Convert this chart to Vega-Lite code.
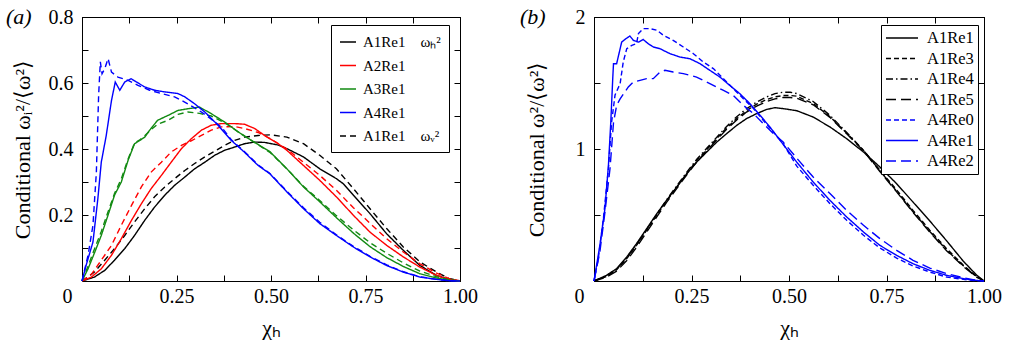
{
"$schema": "https://vega.github.io/schema/vega-lite/v6.json",
"padding": {"left": 5, "top": 5, "right": 5, "bottom": 2},
"bounds": "flush",
"spacing": 134,
"datasets": {
"a": [
{"s":"A1Re1","x":0,"y":0},{"s":"A1Re1","x":0.033,"y":0.012},{"s":"A1Re1","x":0.06,"y":0.032},{"s":"A1Re1","x":0.086,"y":0.063},{"s":"A1Re1","x":0.113,"y":0.098},{"s":"A1Re1","x":0.139,"y":0.138},{"s":"A1Re1","x":0.166,"y":0.184},{"s":"A1Re1","x":0.192,"y":0.224},{"s":"A1Re1","x":0.219,"y":0.26},{"s":"A1Re1","x":0.245,"y":0.29},{"s":"A1Re1","x":0.272,"y":0.315},{"s":"A1Re1","x":0.298,"y":0.34},{"s":"A1Re1","x":0.325,"y":0.36},{"s":"A1Re1","x":0.351,"y":0.381},{"s":"A1Re1","x":0.377,"y":0.396},{"s":"A1Re1","x":0.404,"y":0.406},{"s":"A1Re1","x":0.43,"y":0.416},{"s":"A1Re1","x":0.457,"y":0.421},{"s":"A1Re1","x":0.483,"y":0.42},{"s":"A1Re1","x":0.519,"y":0.412},{"s":"A1Re1","x":0.542,"y":0.401},{"s":"A1Re1","x":0.586,"y":0.376},{"s":"A1Re1","x":0.629,"y":0.34},{"s":"A1Re1","x":0.673,"y":0.31},{"s":"A1Re1","x":0.691,"y":0.295},{"s":"A1Re1","x":0.718,"y":0.26},{"s":"A1Re1","x":0.762,"y":0.204},{"s":"A1Re1","x":0.806,"y":0.143},{"s":"A1Re1","x":0.85,"y":0.093},{"s":"A1Re1","x":0.894,"y":0.047},{"s":"A1Re1","x":0.938,"y":0.017},{"s":"A1Re1","x":0.97,"y":0.005},{"s":"A1Re1","x":1,"y":0},
{"s":"A1Re1 v","x":0,"y":0},{"s":"A1Re1 v","x":0.033,"y":0.027},{"s":"A1Re1 v","x":0.06,"y":0.063},{"s":"A1Re1 v","x":0.086,"y":0.098},{"s":"A1Re1 v","x":0.113,"y":0.138},{"s":"A1Re1 v","x":0.139,"y":0.179},{"s":"A1Re1 v","x":0.166,"y":0.219},{"s":"A1Re1 v","x":0.192,"y":0.255},{"s":"A1Re1 v","x":0.219,"y":0.285},{"s":"A1Re1 v","x":0.245,"y":0.31},{"s":"A1Re1 v","x":0.272,"y":0.335},{"s":"A1Re1 v","x":0.298,"y":0.356},{"s":"A1Re1 v","x":0.325,"y":0.376},{"s":"A1Re1 v","x":0.351,"y":0.393},{"s":"A1Re1 v","x":0.377,"y":0.411},{"s":"A1Re1 v","x":0.404,"y":0.426},{"s":"A1Re1 v","x":0.43,"y":0.436},{"s":"A1Re1 v","x":0.466,"y":0.441},{"s":"A1Re1 v","x":0.5,"y":0.443},{"s":"A1Re1 v","x":0.542,"y":0.436},{"s":"A1Re1 v","x":0.586,"y":0.416},{"s":"A1Re1 v","x":0.629,"y":0.381},{"s":"A1Re1 v","x":0.673,"y":0.34},{"s":"A1Re1 v","x":0.718,"y":0.28},{"s":"A1Re1 v","x":0.762,"y":0.219},{"s":"A1Re1 v","x":0.806,"y":0.159},{"s":"A1Re1 v","x":0.85,"y":0.103},{"s":"A1Re1 v","x":0.894,"y":0.058},{"s":"A1Re1 v","x":0.938,"y":0.027},{"s":"A1Re1 v","x":0.97,"y":0.008},{"s":"A1Re1 v","x":1,"y":0},
{"s":"A2Re1","x":0,"y":0},{"s":"A2Re1","x":0.025,"y":0.012},{"s":"A2Re1","x":0.051,"y":0.037},{"s":"A2Re1","x":0.078,"y":0.078},{"s":"A2Re1","x":0.104,"y":0.128},{"s":"A2Re1","x":0.131,"y":0.184},{"s":"A2Re1","x":0.157,"y":0.234},{"s":"A2Re1","x":0.183,"y":0.28},{"s":"A2Re1","x":0.21,"y":0.32},{"s":"A2Re1","x":0.236,"y":0.36},{"s":"A2Re1","x":0.263,"y":0.401},{"s":"A2Re1","x":0.289,"y":0.431},{"s":"A2Re1","x":0.316,"y":0.457},{"s":"A2Re1","x":0.342,"y":0.472},{"s":"A2Re1","x":0.369,"y":0.477},{"s":"A2Re1","x":0.404,"y":0.477},{"s":"A2Re1","x":0.43,"y":0.475},{"s":"A2Re1","x":0.457,"y":0.462},{"s":"A2Re1","x":0.483,"y":0.441},{"s":"A2Re1","x":0.519,"y":0.416},{"s":"A2Re1","x":0.542,"y":0.396},{"s":"A2Re1","x":0.586,"y":0.35},{"s":"A2Re1","x":0.629,"y":0.305},{"s":"A2Re1","x":0.673,"y":0.255},{"s":"A2Re1","x":0.718,"y":0.199},{"s":"A2Re1","x":0.762,"y":0.148},{"s":"A2Re1","x":0.806,"y":0.108},{"s":"A2Re1","x":0.85,"y":0.073},{"s":"A2Re1","x":0.894,"y":0.042},{"s":"A2Re1","x":0.938,"y":0.017},{"s":"A2Re1","x":0.97,"y":0.005},{"s":"A2Re1","x":1,"y":0},
{"s":"A2Re1 v","x":0,"y":0},{"s":"A2Re1 v","x":0.025,"y":0.02},{"s":"A2Re1 v","x":0.051,"y":0.063},{"s":"A2Re1 v","x":0.078,"y":0.108},{"s":"A2Re1 v","x":0.104,"y":0.169},{"s":"A2Re1 v","x":0.131,"y":0.229},{"s":"A2Re1 v","x":0.157,"y":0.285},{"s":"A2Re1 v","x":0.183,"y":0.33},{"s":"A2Re1 v","x":0.21,"y":0.36},{"s":"A2Re1 v","x":0.236,"y":0.391},{"s":"A2Re1 v","x":0.263,"y":0.411},{"s":"A2Re1 v","x":0.289,"y":0.425},{"s":"A2Re1 v","x":0.316,"y":0.441},{"s":"A2Re1 v","x":0.342,"y":0.457},{"s":"A2Re1 v","x":0.369,"y":0.467},{"s":"A2Re1 v","x":0.404,"y":0.468},{"s":"A2Re1 v","x":0.43,"y":0.462},{"s":"A2Re1 v","x":0.466,"y":0.45},{"s":"A2Re1 v","x":0.5,"y":0.43},{"s":"A2Re1 v","x":0.542,"y":0.4},{"s":"A2Re1 v","x":0.586,"y":0.36},{"s":"A2Re1 v","x":0.629,"y":0.32},{"s":"A2Re1 v","x":0.673,"y":0.275},{"s":"A2Re1 v","x":0.718,"y":0.222},{"s":"A2Re1 v","x":0.762,"y":0.175},{"s":"A2Re1 v","x":0.806,"y":0.128},{"s":"A2Re1 v","x":0.85,"y":0.088},{"s":"A2Re1 v","x":0.894,"y":0.052},{"s":"A2Re1 v","x":0.938,"y":0.024},{"s":"A2Re1 v","x":0.97,"y":0.008},{"s":"A2Re1 v","x":1,"y":0},
{"s":"A3Re1","x":0,"y":0},{"s":"A3Re1","x":0.016,"y":0.037},{"s":"A3Re1","x":0.034,"y":0.088},{"s":"A3Re1","x":0.051,"y":0.138},{"s":"A3Re1","x":0.069,"y":0.2},{"s":"A3Re1","x":0.086,"y":0.26},{"s":"A3Re1","x":0.104,"y":0.3},{"s":"A3Re1","x":0.122,"y":0.366},{"s":"A3Re1","x":0.139,"y":0.416},{"s":"A3Re1","x":0.153,"y":0.426},{"s":"A3Re1","x":0.166,"y":0.436},{"s":"A3Re1","x":0.179,"y":0.457},{"s":"A3Re1","x":0.2,"y":0.487},{"s":"A3Re1","x":0.228,"y":0.502},{"s":"A3Re1","x":0.254,"y":0.517},{"s":"A3Re1","x":0.28,"y":0.522},{"s":"A3Re1","x":0.311,"y":0.527},{"s":"A3Re1","x":0.342,"y":0.507},{"s":"A3Re1","x":0.377,"y":0.482},{"s":"A3Re1","x":0.413,"y":0.452},{"s":"A3Re1","x":0.448,"y":0.426},{"s":"A3Re1","x":0.497,"y":0.392},{"s":"A3Re1","x":0.542,"y":0.34},{"s":"A3Re1","x":0.586,"y":0.285},{"s":"A3Re1","x":0.629,"y":0.24},{"s":"A3Re1","x":0.673,"y":0.192},{"s":"A3Re1","x":0.718,"y":0.145},{"s":"A3Re1","x":0.762,"y":0.104},{"s":"A3Re1","x":0.806,"y":0.071},{"s":"A3Re1","x":0.85,"y":0.044},{"s":"A3Re1","x":0.894,"y":0.022},{"s":"A3Re1","x":0.938,"y":0.009},{"s":"A3Re1","x":0.97,"y":0.003},{"s":"A3Re1","x":1,"y":0},
{"s":"A3Re1 v","x":0,"y":0},{"s":"A3Re1 v","x":0.016,"y":0.045},{"s":"A3Re1 v","x":0.034,"y":0.1},{"s":"A3Re1 v","x":0.051,"y":0.15},{"s":"A3Re1 v","x":0.069,"y":0.21},{"s":"A3Re1 v","x":0.086,"y":0.265},{"s":"A3Re1 v","x":0.104,"y":0.31},{"s":"A3Re1 v","x":0.122,"y":0.37},{"s":"A3Re1 v","x":0.139,"y":0.418},{"s":"A3Re1 v","x":0.153,"y":0.428},{"s":"A3Re1 v","x":0.166,"y":0.44},{"s":"A3Re1 v","x":0.179,"y":0.455},{"s":"A3Re1 v","x":0.2,"y":0.475},{"s":"A3Re1 v","x":0.228,"y":0.487},{"s":"A3Re1 v","x":0.254,"y":0.505},{"s":"A3Re1 v","x":0.28,"y":0.512},{"s":"A3Re1 v","x":0.311,"y":0.508},{"s":"A3Re1 v","x":0.342,"y":0.5},{"s":"A3Re1 v","x":0.377,"y":0.48},{"s":"A3Re1 v","x":0.413,"y":0.452},{"s":"A3Re1 v","x":0.448,"y":0.426},{"s":"A3Re1 v","x":0.497,"y":0.39},{"s":"A3Re1 v","x":0.542,"y":0.34},{"s":"A3Re1 v","x":0.586,"y":0.287},{"s":"A3Re1 v","x":0.629,"y":0.244},{"s":"A3Re1 v","x":0.673,"y":0.198},{"s":"A3Re1 v","x":0.718,"y":0.155},{"s":"A3Re1 v","x":0.762,"y":0.116},{"s":"A3Re1 v","x":0.806,"y":0.084},{"s":"A3Re1 v","x":0.85,"y":0.055},{"s":"A3Re1 v","x":0.894,"y":0.03},{"s":"A3Re1 v","x":0.938,"y":0.013},{"s":"A3Re1 v","x":0.97,"y":0.004},{"s":"A3Re1 v","x":1,"y":0},
{"s":"A4Re1","x":0,"y":0},{"s":"A4Re1","x":0.011,"y":0.048},{"s":"A4Re1","x":0.029,"y":0.118},{"s":"A4Re1","x":0.042,"y":0.25},{"s":"A4Re1","x":0.051,"y":0.36},{"s":"A4Re1","x":0.064,"y":0.44},{"s":"A4Re1","x":0.078,"y":0.547},{"s":"A4Re1","x":0.088,"y":0.603},{"s":"A4Re1","x":0.1,"y":0.578},{"s":"A4Re1","x":0.113,"y":0.603},{"s":"A4Re1","x":0.13,"y":0.613},{"s":"A4Re1","x":0.144,"y":0.603},{"s":"A4Re1","x":0.166,"y":0.588},{"s":"A4Re1","x":0.192,"y":0.578},{"s":"A4Re1","x":0.219,"y":0.573},{"s":"A4Re1","x":0.254,"y":0.568},{"s":"A4Re1","x":0.272,"y":0.558},{"s":"A4Re1","x":0.298,"y":0.537},{"s":"A4Re1","x":0.325,"y":0.512},{"s":"A4Re1","x":0.36,"y":0.472},{"s":"A4Re1","x":0.395,"y":0.426},{"s":"A4Re1","x":0.43,"y":0.39},{"s":"A4Re1","x":0.466,"y":0.35},{"s":"A4Re1","x":0.497,"y":0.325},{"s":"A4Re1","x":0.519,"y":0.298},{"s":"A4Re1","x":0.542,"y":0.27},{"s":"A4Re1","x":0.586,"y":0.219},{"s":"A4Re1","x":0.629,"y":0.174},{"s":"A4Re1","x":0.673,"y":0.138},{"s":"A4Re1","x":0.718,"y":0.103},{"s":"A4Re1","x":0.762,"y":0.073},{"s":"A4Re1","x":0.806,"y":0.047},{"s":"A4Re1","x":0.85,"y":0.027},{"s":"A4Re1","x":0.894,"y":0.012},{"s":"A4Re1","x":0.938,"y":0.005},{"s":"A4Re1","x":0.97,"y":0.001},{"s":"A4Re1","x":1,"y":0},
{"s":"A4Re1 v","x":0,"y":0},{"s":"A4Re1 v","x":0.016,"y":0.078},{"s":"A4Re1 v","x":0.029,"y":0.169},{"s":"A4Re1 v","x":0.038,"y":0.33},{"s":"A4Re1 v","x":0.044,"y":0.563},{"s":"A4Re1 v","x":0.0485,"y":0.664},{"s":"A4Re1 v","x":0.053,"y":0.628},{"s":"A4Re1 v","x":0.06,"y":0.643},{"s":"A4Re1 v","x":0.069,"y":0.674},{"s":"A4Re1 v","x":0.078,"y":0.633},{"s":"A4Re1 v","x":0.095,"y":0.618},{"s":"A4Re1 v","x":0.122,"y":0.608},{"s":"A4Re1 v","x":0.148,"y":0.593},{"s":"A4Re1 v","x":0.179,"y":0.578},{"s":"A4Re1 v","x":0.21,"y":0.568},{"s":"A4Re1 v","x":0.245,"y":0.558},{"s":"A4Re1 v","x":0.28,"y":0.537},{"s":"A4Re1 v","x":0.316,"y":0.512},{"s":"A4Re1 v","x":0.342,"y":0.49},{"s":"A4Re1 v","x":0.37,"y":0.465},{"s":"A4Re1 v","x":0.395,"y":0.428},{"s":"A4Re1 v","x":0.43,"y":0.392},{"s":"A4Re1 v","x":0.466,"y":0.352},{"s":"A4Re1 v","x":0.497,"y":0.326},{"s":"A4Re1 v","x":0.542,"y":0.272},{"s":"A4Re1 v","x":0.586,"y":0.222},{"s":"A4Re1 v","x":0.629,"y":0.178},{"s":"A4Re1 v","x":0.673,"y":0.14},{"s":"A4Re1 v","x":0.718,"y":0.105},{"s":"A4Re1 v","x":0.762,"y":0.075},{"s":"A4Re1 v","x":0.806,"y":0.049},{"s":"A4Re1 v","x":0.85,"y":0.028},{"s":"A4Re1 v","x":0.894,"y":0.013},{"s":"A4Re1 v","x":0.938,"y":0.005},{"s":"A4Re1 v","x":0.97,"y":0.001},{"s":"A4Re1 v","x":1,"y":0}
],
"b": [
{"s":"A1Re1","x":0,"y":0},{"s":"A1Re1","x":0.032,"y":0.043},{"s":"A1Re1","x":0.058,"y":0.093},{"s":"A1Re1","x":0.084,"y":0.182},{"s":"A1Re1","x":0.109,"y":0.283},{"s":"A1Re1","x":0.135,"y":0.396},{"s":"A1Re1","x":0.161,"y":0.51},{"s":"A1Re1","x":0.186,"y":0.611},{"s":"A1Re1","x":0.212,"y":0.712},{"s":"A1Re1","x":0.238,"y":0.813},{"s":"A1Re1","x":0.263,"y":0.9},{"s":"A1Re1","x":0.289,"y":0.977},{"s":"A1Re1","x":0.315,"y":1.053},{"s":"A1Re1","x":0.34,"y":1.116},{"s":"A1Re1","x":0.366,"y":1.179},{"s":"A1Re1","x":0.391,"y":1.23},{"s":"A1Re1","x":0.417,"y":1.268},{"s":"A1Re1","x":0.443,"y":1.3},{"s":"A1Re1","x":0.464,"y":1.313},{"s":"A1Re1","x":0.485,"y":1.306},{"s":"A1Re1","x":0.52,"y":1.29},{"s":"A1Re1","x":0.562,"y":1.242},{"s":"A1Re1","x":0.605,"y":1.167},{"s":"A1Re1","x":0.648,"y":1.078},{"s":"A1Re1","x":0.691,"y":0.977},{"s":"A1Re1","x":0.733,"y":0.864},{"s":"A1Re1","x":0.776,"y":0.737},{"s":"A1Re1","x":0.818,"y":0.598},{"s":"A1Re1","x":0.861,"y":0.455},{"s":"A1Re1","x":0.904,"y":0.305},{"s":"A1Re1","x":0.947,"y":0.15},{"s":"A1Re1","x":0.981,"y":0.045},{"s":"A1Re1","x":1,"y":0},
{"s":"A1Re3","x":0,"y":0},{"s":"A1Re3","x":0.032,"y":0.035},{"s":"A1Re3","x":0.058,"y":0.085},{"s":"A1Re3","x":0.084,"y":0.17},{"s":"A1Re3","x":0.109,"y":0.27},{"s":"A1Re3","x":0.135,"y":0.385},{"s":"A1Re3","x":0.161,"y":0.5},{"s":"A1Re3","x":0.186,"y":0.605},{"s":"A1Re3","x":0.212,"y":0.71},{"s":"A1Re3","x":0.238,"y":0.815},{"s":"A1Re3","x":0.263,"y":0.91},{"s":"A1Re3","x":0.289,"y":0.995},{"s":"A1Re3","x":0.315,"y":1.08},{"s":"A1Re3","x":0.34,"y":1.16},{"s":"A1Re3","x":0.366,"y":1.23},{"s":"A1Re3","x":0.391,"y":1.29},{"s":"A1Re3","x":0.417,"y":1.34},{"s":"A1Re3","x":0.443,"y":1.375},{"s":"A1Re3","x":0.464,"y":1.395},{"s":"A1Re3","x":0.485,"y":1.405},{"s":"A1Re3","x":0.503,"y":1.405},{"s":"A1Re3","x":0.52,"y":1.4},{"s":"A1Re3","x":0.562,"y":1.345},{"s":"A1Re3","x":0.605,"y":1.245},{"s":"A1Re3","x":0.648,"y":1.12},{"s":"A1Re3","x":0.691,"y":0.99},{"s":"A1Re3","x":0.733,"y":0.84},{"s":"A1Re3","x":0.776,"y":0.69},{"s":"A1Re3","x":0.818,"y":0.535},{"s":"A1Re3","x":0.861,"y":0.385},{"s":"A1Re3","x":0.904,"y":0.245},{"s":"A1Re3","x":0.947,"y":0.12},{"s":"A1Re3","x":0.981,"y":0.035},{"s":"A1Re3","x":1,"y":0},
{"s":"A1Re4","x":0,"y":0},{"s":"A1Re4","x":0.032,"y":0.04},{"s":"A1Re4","x":0.058,"y":0.09},{"s":"A1Re4","x":0.084,"y":0.175},{"s":"A1Re4","x":0.109,"y":0.275},{"s":"A1Re4","x":0.135,"y":0.39},{"s":"A1Re4","x":0.161,"y":0.505},{"s":"A1Re4","x":0.186,"y":0.615},{"s":"A1Re4","x":0.212,"y":0.72},{"s":"A1Re4","x":0.238,"y":0.825},{"s":"A1Re4","x":0.263,"y":0.92},{"s":"A1Re4","x":0.289,"y":1.005},{"s":"A1Re4","x":0.315,"y":1.09},{"s":"A1Re4","x":0.34,"y":1.17},{"s":"A1Re4","x":0.366,"y":1.245},{"s":"A1Re4","x":0.391,"y":1.305},{"s":"A1Re4","x":0.417,"y":1.355},{"s":"A1Re4","x":0.443,"y":1.395},{"s":"A1Re4","x":0.464,"y":1.42},{"s":"A1Re4","x":0.485,"y":1.43},{"s":"A1Re4","x":0.503,"y":1.43},{"s":"A1Re4","x":0.52,"y":1.42},{"s":"A1Re4","x":0.562,"y":1.36},{"s":"A1Re4","x":0.605,"y":1.255},{"s":"A1Re4","x":0.648,"y":1.125},{"s":"A1Re4","x":0.691,"y":0.99},{"s":"A1Re4","x":0.733,"y":0.835},{"s":"A1Re4","x":0.776,"y":0.68},{"s":"A1Re4","x":0.818,"y":0.525},{"s":"A1Re4","x":0.861,"y":0.375},{"s":"A1Re4","x":0.904,"y":0.235},{"s":"A1Re4","x":0.947,"y":0.115},{"s":"A1Re4","x":0.981,"y":0.032},{"s":"A1Re4","x":1,"y":0},
{"s":"A1Re5","x":0,"y":0},{"s":"A1Re5","x":0.032,"y":0.03},{"s":"A1Re5","x":0.058,"y":0.075},{"s":"A1Re5","x":0.084,"y":0.155},{"s":"A1Re5","x":0.109,"y":0.255},{"s":"A1Re5","x":0.135,"y":0.37},{"s":"A1Re5","x":0.161,"y":0.485},{"s":"A1Re5","x":0.186,"y":0.595},{"s":"A1Re5","x":0.212,"y":0.7},{"s":"A1Re5","x":0.238,"y":0.805},{"s":"A1Re5","x":0.263,"y":0.9},{"s":"A1Re5","x":0.289,"y":0.985},{"s":"A1Re5","x":0.315,"y":1.07},{"s":"A1Re5","x":0.34,"y":1.15},{"s":"A1Re5","x":0.366,"y":1.22},{"s":"A1Re5","x":0.391,"y":1.28},{"s":"A1Re5","x":0.417,"y":1.325},{"s":"A1Re5","x":0.443,"y":1.36},{"s":"A1Re5","x":0.464,"y":1.38},{"s":"A1Re5","x":0.485,"y":1.39},{"s":"A1Re5","x":0.503,"y":1.39},{"s":"A1Re5","x":0.52,"y":1.385},{"s":"A1Re5","x":0.562,"y":1.335},{"s":"A1Re5","x":0.605,"y":1.24},{"s":"A1Re5","x":0.648,"y":1.115},{"s":"A1Re5","x":0.691,"y":0.985},{"s":"A1Re5","x":0.733,"y":0.83},{"s":"A1Re5","x":0.776,"y":0.675},{"s":"A1Re5","x":0.818,"y":0.52},{"s":"A1Re5","x":0.861,"y":0.37},{"s":"A1Re5","x":0.904,"y":0.23},{"s":"A1Re5","x":0.947,"y":0.11},{"s":"A1Re5","x":0.981,"y":0.03},{"s":"A1Re5","x":1,"y":0},
{"s":"A4Re0","x":0,"y":0},{"s":"A4Re0","x":0.011,"y":0.169},{"s":"A4Re0","x":0.024,"y":0.47},{"s":"A4Re0","x":0.037,"y":0.85},{"s":"A4Re0","x":0.045,"y":1.2},{"s":"A4Re0","x":0.054,"y":1.41},{"s":"A4Re0","x":0.067,"y":1.495},{"s":"A4Re0","x":0.075,"y":1.66},{"s":"A4Re0","x":0.084,"y":1.76},{"s":"A4Re0","x":0.097,"y":1.785},{"s":"A4Re0","x":0.109,"y":1.798},{"s":"A4Re0","x":0.114,"y":1.874},{"s":"A4Re0","x":0.126,"y":1.912},{"s":"A4Re0","x":0.144,"y":1.912},{"s":"A4Re0","x":0.161,"y":1.9},{"s":"A4Re0","x":0.178,"y":1.861},{"s":"A4Re0","x":0.203,"y":1.823},{"s":"A4Re0","x":0.229,"y":1.773},{"s":"A4Re0","x":0.255,"y":1.722},{"s":"A4Re0","x":0.28,"y":1.66},{"s":"A4Re0","x":0.306,"y":1.609},{"s":"A4Re0","x":0.332,"y":1.533},{"s":"A4Re0","x":0.357,"y":1.457},{"s":"A4Re0","x":0.383,"y":1.381},{"s":"A4Re0","x":0.409,"y":1.306},{"s":"A4Re0","x":0.434,"y":1.217},{"s":"A4Re0","x":0.46,"y":1.129},{"s":"A4Re0","x":0.485,"y":1.04},{"s":"A4Re0","x":0.52,"y":0.87},{"s":"A4Re0","x":0.562,"y":0.725},{"s":"A4Re0","x":0.605,"y":0.586},{"s":"A4Re0","x":0.648,"y":0.46},{"s":"A4Re0","x":0.691,"y":0.346},{"s":"A4Re0","x":0.733,"y":0.25},{"s":"A4Re0","x":0.776,"y":0.174},{"s":"A4Re0","x":0.818,"y":0.114},{"s":"A4Re0","x":0.861,"y":0.068},{"s":"A4Re0","x":0.904,"y":0.03},{"s":"A4Re0","x":0.947,"y":0.012},{"s":"A4Re0","x":0.975,"y":0.004},{"s":"A4Re0","x":1,"y":0},
{"s":"A4Re1","x":0,"y":0},{"s":"A4Re1","x":0.015,"y":0.27},{"s":"A4Re1","x":0.028,"y":0.548},{"s":"A4Re1","x":0.037,"y":0.876},{"s":"A4Re1","x":0.043,"y":1.2},{"s":"A4Re1","x":0.048,"y":1.53},{"s":"A4Re1","x":0.05,"y":1.646},{"s":"A4Re1","x":0.058,"y":1.646},{"s":"A4Re1","x":0.071,"y":1.81},{"s":"A4Re1","x":0.082,"y":1.836},{"s":"A4Re1","x":0.092,"y":1.856},{"s":"A4Re1","x":0.101,"y":1.823},{"s":"A4Re1","x":0.114,"y":1.81},{"s":"A4Re1","x":0.126,"y":1.83},{"s":"A4Re1","x":0.139,"y":1.798},{"s":"A4Re1","x":0.152,"y":1.773},{"s":"A4Re1","x":0.169,"y":1.76},{"s":"A4Re1","x":0.195,"y":1.722},{"s":"A4Re1","x":0.22,"y":1.697},{"s":"A4Re1","x":0.246,"y":1.684},{"s":"A4Re1","x":0.272,"y":1.646},{"s":"A4Re1","x":0.297,"y":1.596},{"s":"A4Re1","x":0.323,"y":1.545},{"s":"A4Re1","x":0.348,"y":1.482},{"s":"A4Re1","x":0.374,"y":1.419},{"s":"A4Re1","x":0.4,"y":1.343},{"s":"A4Re1","x":0.426,"y":1.255},{"s":"A4Re1","x":0.451,"y":1.167},{"s":"A4Re1","x":0.477,"y":1.066},{"s":"A4Re1","x":0.52,"y":0.9},{"s":"A4Re1","x":0.562,"y":0.75},{"s":"A4Re1","x":0.605,"y":0.611},{"s":"A4Re1","x":0.648,"y":0.485},{"s":"A4Re1","x":0.691,"y":0.371},{"s":"A4Re1","x":0.733,"y":0.27},{"s":"A4Re1","x":0.776,"y":0.194},{"s":"A4Re1","x":0.818,"y":0.131},{"s":"A4Re1","x":0.861,"y":0.081},{"s":"A4Re1","x":0.904,"y":0.043},{"s":"A4Re1","x":0.947,"y":0.018},{"s":"A4Re1","x":0.975,"y":0.006},{"s":"A4Re1","x":1,"y":0},
{"s":"A4Re2","x":0,"y":0},{"s":"A4Re2","x":0.015,"y":0.22},{"s":"A4Re2","x":0.028,"y":0.52},{"s":"A4Re2","x":0.041,"y":0.85},{"s":"A4Re2","x":0.05,"y":1.2},{"s":"A4Re2","x":0.058,"y":1.33},{"s":"A4Re2","x":0.067,"y":1.38},{"s":"A4Re2","x":0.088,"y":1.47},{"s":"A4Re2","x":0.101,"y":1.508},{"s":"A4Re2","x":0.118,"y":1.52},{"s":"A4Re2","x":0.135,"y":1.533},{"s":"A4Re2","x":0.152,"y":1.533},{"s":"A4Re2","x":0.169,"y":1.583},{"s":"A4Re2","x":0.182,"y":1.596},{"s":"A4Re2","x":0.203,"y":1.583},{"s":"A4Re2","x":0.229,"y":1.571},{"s":"A4Re2","x":0.263,"y":1.545},{"s":"A4Re2","x":0.297,"y":1.495},{"s":"A4Re2","x":0.332,"y":1.444},{"s":"A4Re2","x":0.357,"y":1.407},{"s":"A4Re2","x":0.383,"y":1.331},{"s":"A4Re2","x":0.409,"y":1.268},{"s":"A4Re2","x":0.434,"y":1.192},{"s":"A4Re2","x":0.46,"y":1.116},{"s":"A4Re2","x":0.485,"y":1.053},{"s":"A4Re2","x":0.52,"y":0.93},{"s":"A4Re2","x":0.562,"y":0.788},{"s":"A4Re2","x":0.605,"y":0.662},{"s":"A4Re2","x":0.648,"y":0.535},{"s":"A4Re2","x":0.691,"y":0.422},{"s":"A4Re2","x":0.733,"y":0.321},{"s":"A4Re2","x":0.776,"y":0.232},{"s":"A4Re2","x":0.818,"y":0.157},{"s":"A4Re2","x":0.861,"y":0.098},{"s":"A4Re2","x":0.904,"y":0.056},{"s":"A4Re2","x":0.947,"y":0.025},{"s":"A4Re2","x":0.975,"y":0.008},{"s":"A4Re2","x":1,"y":0}
]
},
"hconcat": [
{
"width": 378, "height": 264,
"data": {"name": "a"},
"title": {"text": "(a)", "anchor": "start", "frame": "bounds", "font": "Liberation Serif", "fontSize": 22, "fontStyle": "italic", "fontWeight": "normal", "color": "#000", "dy": 22, "dx": -5, "offset": 0},
"layer": [
{"mark": {"type": "line", "strokeWidth": 1.4},
 "encoding": {
  "x": {"field": "x", "type": "quantitative", "scale": {"domain": [0, 1], "nice": false},
        "axis": {"orient": "bottom", "values": [0, 0.125, 0.25, 0.375, 0.5, 0.625, 0.75, 0.875, 1], "labelExpr": "datum.value == 0 ? '0' : (round(datum.value * 8) % 2 == 0 ? format(datum.value, '.2f') : '')", "labelOffset": {"condition": {"test": "datum.value == 0", "value": -15}, "value": 0}, "labelPadding": 11, "title": "χₕ", "titlePadding": 11}},
  "y": {"field": "y", "type": "quantitative", "scale": {"domain": [0, 0.8], "nice": false},
        "axis": {"orient": "left", "values": [0, 0.1, 0.2, 0.3, 0.4, 0.5, 0.6, 0.7, 0.8], "labelExpr": "datum.value > 0 && round(datum.value * 10) % 2 == 0 ? format(datum.value, '.1f') : ''", "labelPadding": 15, "title": "Conditional ωᵢ²/⟨ω²⟩", "titlePadding": 14}},
  "color": {"field": "s", "type": "nominal",
        "scale": {"domain": ["A1Re1", "A2Re1", "A3Re1", "A4Re1", "A1Re1 v", "A2Re1 v", "A3Re1 v", "A4Re1 v"], "range": ["#000000", "#ff0000", "#128a12", "#0000ff", "#000000", "#ff0000", "#128a12", "#0000ff"]},
        "legend": {"values": ["A1Re1", "A2Re1", "A3Re1", "A4Re1", "A1Re1 v"], "labelExpr": "datum.value == 'A1Re1' ? 'A1Re1\u2003ωₕ²' : (datum.value == 'A1Re1 v' ? 'A1Re1\u2003ωᵥ²' : datum.value)", "orient": "none", "legendX": 249, "legendY": 8, "symbolType": "stroke", "symbolSize": 256, "rowPadding": 6.5, "padding": 8, "labelOffset": 6}},
  "strokeDash": {"field": "s", "type": "nominal",
        "scale": {"domain": ["A1Re1", "A2Re1", "A3Re1", "A4Re1", "A1Re1 v", "A2Re1 v", "A3Re1 v", "A4Re1 v"], "range": [[1, 0], [1, 0], [1, 0], [1, 0], [6, 4], [6, 4], [6, 4], [6, 4]]},
        "legend": {"values": ["A1Re1", "A2Re1", "A3Re1", "A4Re1", "A1Re1 v"], "labelExpr": "datum.value == 'A1Re1' ? 'A1Re1\u2003ωₕ²' : (datum.value == 'A1Re1 v' ? 'A1Re1\u2003ωᵥ²' : datum.value)", "orient": "none", "legendX": 249, "legendY": 8, "symbolType": "stroke", "symbolSize": 256, "rowPadding": 6.5, "padding": 8, "labelOffset": 6}}
 }},
{"mark": {"type": "line", "opacity": 0},
 "encoding": {
  "x": {"field": "x", "type": "quantitative", "axis": {"orient": "top", "values": [0, 0.125, 0.25, 0.375, 0.5, 0.625, 0.75, 0.875, 1], "labels": false, "title": null}},
  "y": {"field": "y", "type": "quantitative", "axis": {"orient": "right", "values": [0, 0.1, 0.2, 0.3, 0.4, 0.5, 0.6, 0.7, 0.8], "labels": false, "title": null}}
 }}
],
"resolve": {"axis": {"x": "independent", "y": "independent"}}
},
{
"width": 390, "height": 264,
"data": {"name": "b"},
"title": {"text": "(b)", "anchor": "start", "frame": "bounds", "font": "Liberation Serif", "fontSize": 22, "fontStyle": "italic", "fontWeight": "normal", "color": "#000", "dy": 22, "dx": -5, "offset": 0},
"layer": [
{"mark": {"type": "line", "strokeWidth": 1.4},
 "encoding": {
  "x": {"field": "x", "type": "quantitative", "scale": {"domain": [0, 1], "nice": false},
        "axis": {"orient": "bottom", "values": [0, 0.125, 0.25, 0.375, 0.5, 0.625, 0.75, 0.875, 1], "labelExpr": "datum.value == 0 ? '0' : (round(datum.value * 8) % 2 == 0 ? format(datum.value, '.2f') : '')", "labelOffset": {"condition": {"test": "datum.value == 0", "value": -15}, "value": 0}, "labelPadding": 11, "title": "χₕ", "titlePadding": 11}},
  "y": {"field": "y", "type": "quantitative", "scale": {"domain": [0, 2], "nice": false},
        "axis": {"orient": "left", "values": [0, 0.5, 1, 1.5, 2], "labelExpr": "datum.value == 1 || datum.value == 2 ? format(datum.value, 'd') : ''", "labelPadding": 15, "title": "Conditional ω²/⟨ω²⟩", "titlePadding": 27}},
  "color": {"field": "s", "type": "nominal",
        "scale": {"domain": ["A1Re1", "A1Re3", "A1Re4", "A1Re5", "A4Re0", "A4Re1", "A4Re2"], "range": ["#000000", "#000000", "#000000", "#000000", "#0000ff", "#0000ff", "#0000ff"]},
        "legend": {"orient": "none", "legendX": 287, "legendY": 8, "symbolType": "M-2,0H2", "symbolSize": 256, "symbolOffset": 8, "rowPadding": 2.5, "padding": 4, "labelOffset": 16, "labelFontSize": 16.5}},
  "strokeDash": {"field": "s", "type": "nominal",
        "scale": {"domain": ["A1Re1", "A1Re3", "A1Re4", "A1Re5", "A4Re0", "A4Re1", "A4Re2"], "range": [[1, 0], [5, 3], [7, 3, 1.5, 3], [10, 5], [5, 3], [1, 0], [10, 5]]},
        "legend": {"orient": "none", "legendX": 287, "legendY": 8, "symbolType": "M-2,0H2", "symbolSize": 256, "symbolOffset": 8, "rowPadding": 2.5, "padding": 4, "labelOffset": 16, "labelFontSize": 16.5}}
 }},
{"mark": {"type": "line", "opacity": 0},
 "encoding": {
  "x": {"field": "x", "type": "quantitative", "axis": {"orient": "top", "values": [0, 0.125, 0.25, 0.375, 0.5, 0.625, 0.75, 0.875, 1], "labels": false, "title": null}},
  "y": {"field": "y", "type": "quantitative", "axis": {"orient": "right", "values": [0, 0.5, 1, 1.5, 2], "labels": false, "title": null}}
 }}
],
"resolve": {"axis": {"x": "independent", "y": "independent"}}
}
],
"resolve": {"scale": {"color": "independent", "strokeDash": "independent"}, "legend": {"color": "independent", "strokeDash": "independent"}},
"config": {
"view": {"stroke": "#000", "strokeWidth": 1},
"font": "Liberation Serif",
"axis": {"grid": false, "tickSize": -6, "tickColor": "#000", "tickWidth": 1, "domainColor": "#000", "domainWidth": 1, "labelColor": "#000", "titleColor": "#000", "labelFont": "Liberation Serif", "labelFontSize": 20, "titleFont": "Liberation Serif", "titleFontSize": 22, "titleFontWeight": "normal", "labelFlush": false, "labelOverlap": false, "labelBound": false},
"legend": {"title": null, "labelFont": "Liberation Serif", "labelFontSize": 15, "labelColor": "#000", "strokeColor": "#000", "fillColor": "#fff", "symbolStrokeWidth": 1.5, "labelLimit": 200}
}
}
